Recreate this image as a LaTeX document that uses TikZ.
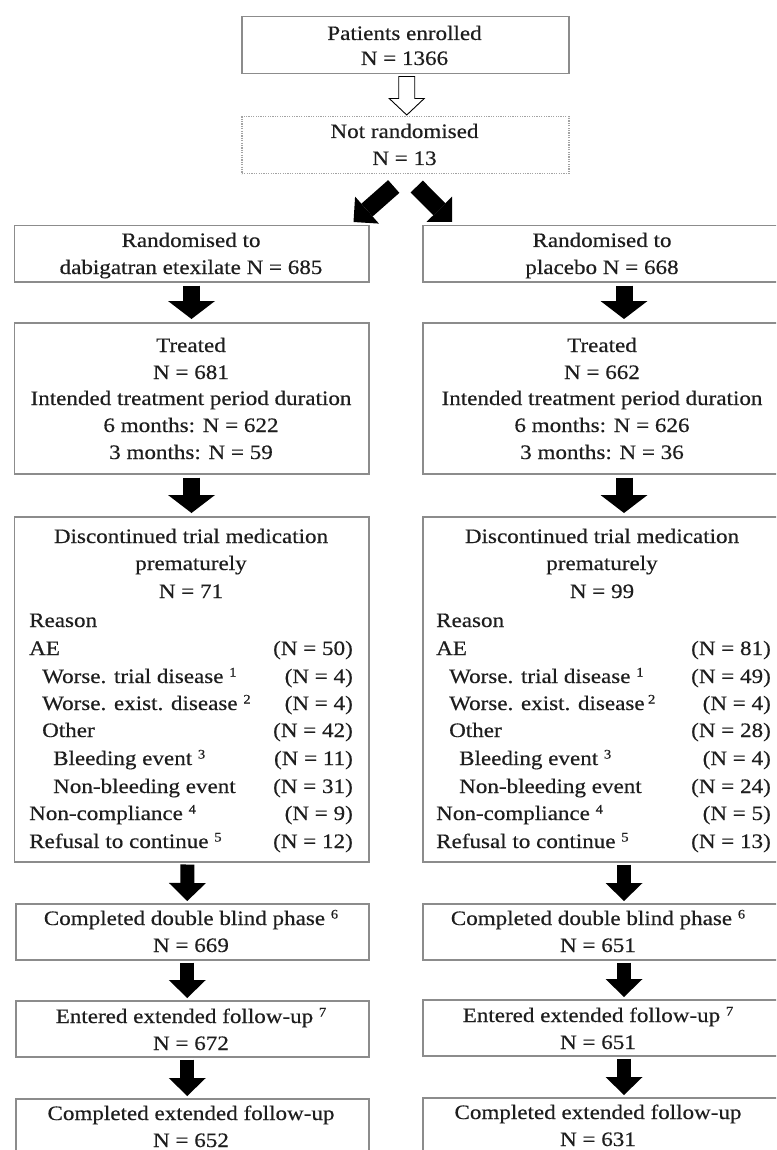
\documentclass[tikz,border=0pt]{standalone}
\usepackage{fontspec}
\setmainfont{Liberation Serif}[FakeStretch=1.125,FakeBold=0.4]
\usetikzlibrary{arrows.meta,calc}
\definecolor{ink}{RGB}{30,30,30}
\definecolor{edge}{RGB}{140,140,140}
\newcommand\F{\fontsize{20.5}{27}\selectfont}
\newcommand\SUP[1]{\raisebox{6.5pt}{\fontsize{13}{13}\selectfont #1}}
\tikzset{
 box/.style={draw=edge, line width=1.5pt, fill=white, anchor=north west, inner sep=0pt},
 dbox/.style={box, draw=edge!80, dash pattern=on 1.2pt off 1.2pt},
 tc/.style={inner sep=0pt, text=ink, font=\F, anchor=base},
 tw/.style={tc, anchor=base west},
 te/.style={tc, anchor=base east},
 blk/.style={draw=black, line width=17pt, -{Triangle[length=18pt,width=47pt,line width=0pt]}, shorten <=3pt, shorten >=3pt},
 blks/.style={draw=black, line width=14pt, -{Triangle[length=18pt,width=37pt,line width=0pt]}, shorten <=2pt, shorten >=2pt},
 diag/.style={draw=black, line width=17pt, -{Triangle[length=18pt,width=36pt,line width=0pt]}},
 hollow/.style={draw=black, line width=0.9pt, fill=white, line join=miter},
}
\begin{document}
\begin{tikzpicture}[x=1pt,y=-1pt]
\useasboundingbox (0,0) rectangle (776,1150);
\clip (0,0) rectangle (776,1150);
\fill[white] (0,0) rectangle (776,1150);
% boxes
\node[box, minimum width=327pt, minimum height=57pt] (enr) at (241,16) {};
\node[dbox, minimum width=327pt, minimum height=57pt] (nrand) at (241,116) {};
\node[box, minimum width=354.5pt, minimum height=56pt] (randL) at (13.5,225) {};
\node[box, minimum width=360pt, minimum height=56pt] (randR) at (422,225) {};
\node[box, minimum width=354.5pt, minimum height=151pt] (treL) at (13.5,322) {};
\node[box, minimum width=360pt, minimum height=151pt] (treR) at (422,322) {};
\node[box, minimum width=354.5pt, minimum height=345pt] (discL) at (13.5,516) {};
\node[box, minimum width=360pt, minimum height=345pt] (discR) at (422,516) {};
\node[box, minimum width=353pt, minimum height=56pt] (cdbL) at (15,903) {};
\node[box, minimum width=360pt, minimum height=56pt] (cdbR) at (422,903) {};
\node[box, minimum width=353pt, minimum height=56pt] (entL) at (15,1000) {};
\node[box, minimum width=360pt, minimum height=56pt] (entR) at (422,999) {};
\node[box, minimum width=353pt, minimum height=80pt] (cexL) at (15,1098) {};
\node[box, minimum width=360pt, minimum height=80pt] (cexR) at (422,1097) {};
% hollow arrow
\draw[hollow] ($(enr.south)+(-6.5,2)$) -- ($(enr.south)+(-6.5,24)$) -- ($(enr.south)+(-16,24)$)
  -- ($(nrand.north)+(1.5,-1)$) -- ($(enr.south)+(19,24)$) -- ($(enr.south)+(9.5,24)$)
  -- ($(enr.south)+(9.5,2)$) -- cycle;
% diagonal arrows
\draw[diag] ($(nrand.south)+(-11.5,12)$) -- ($(randL.north east)+(-16,-3)$);
\draw[diag] ($(nrand.south)+(11.5,12)$) -- ($(randR.north west)+(30,-3)$);
% vertical arrows left
\draw[blk] (randL.south) -- (treL.north);
\draw[blk] (treL.south) -- (discL.north);
\draw[blks] ($(discL.south)+(-4,0)$) -- ($(cdbL.north)+(-5,0)$);
\draw[blks] ($(cdbL.south)+(-5,0)$) -- ($(entL.north)+(-5,0)$);
\draw[blks] ($(entL.south)+(-5,0)$) -- ($(cexL.north)+(-5,0)$);
% vertical arrows right
\draw[blk] ($(randR.south west)+(202,0)$) -- ($(treR.north west)+(202,0)$);
\draw[blk] ($(treR.south west)+(202,0)$) -- ($(discR.north west)+(202,0)$);
\draw[blks] ($(discR.south west)+(202,0)$) -- ($(cdbR.north west)+(202,0)$);
\draw[blks] ($(cdbR.south west)+(202,0)$) -- ($(entR.north west)+(202,0)$);
\draw[blks] ($(entR.south west)+(202,0)$) -- ($(cexR.north west)+(202,0)$);
% texts top
\node[tc] (e1) at (404.5,40) {Patients enrolled};
\node[tc] (e2) at (404.5,65) {N = 1366};
\node[tc] (n1) at (404.5,138) {Not randomised};
\node[tc] (n2) at (404.5,165) {N = 13};
\node[tc] (rl1) at (191,247) {Randomised to};
\node[tc] (rl2) at (191,274) {dabigatran etexilate N = 685};
\node[tc] (rr1) at (602,247) {Randomised to};
\node[tc] (rr2) at (602,274) {placebo N = 668};
% treated
\node[tc] (tl1) at (191,352) {Treated};
\node[tc] (tl2) at (191,379) {N = 681};
\node[tc] (tl3) at (191,405) {Intended treatment period duration};
\node[tc] (tl4) at (191,432) {6 months: N = 622};
\node[tc] (tl5) at (191,459) {3 months: N = 59};
\node[tc] (tr1) at (602,352) {Treated};
\node[tc] (tr2) at (602,379) {N = 662};
\node[tc] (tr3) at (602,405) {Intended treatment period duration};
\node[tc] (tr4) at (602,432) {6 months: N = 626};
\node[tc] (tr5) at (602,459) {3 months: N = 36};
% discontinued left
\node[tc] (dl1) at (191,543) {Discontinued trial medication};
\node[tc] (dl2) at (191,570) {prematurely};
\node[tc] (dl3) at (191,598) {N = 71};
\node[tw] (dl4) at (29,627) {Reason};
\node[tw] (dl5) at (29,655) {AE};
\node[te] (dl5n) at (353,655) {(N = 50)};
\node[tw] (dl6) at (42,683) {Worse. trial disease \SUP{1}};
\node[te] (dl6n) at (353,683) {(N = 4)};
\node[tw] (dl7) at (42,710) {Worse. exist. disease \SUP{2}};
\node[te] (dl7n) at (353,710) {(N = 4)};
\node[tw] (dl8) at (42,737) {Other};
\node[te] (dl8n) at (353,737) {(N = 42)};
\node[tw] (dl9) at (53,765) {Bleeding event \SUP{3}};
\node[te] (dl9n) at (353,765) {(N = 11)};
\node[tw] (dl10) at (53,793) {Non-bleeding event};
\node[te] (dl10n) at (353,793) {(N = 31)};
\node[tw] (dl11) at (29,820) {Non-compliance \SUP{4}};
\node[te] (dl11n) at (353,820) {(N = 9)};
\node[tw] (dl12) at (29,848) {Refusal to continue \SUP{5}};
\node[te] (dl12n) at (353,848) {(N = 12)};
% discontinued right
\node[tc] (dr1) at (602,543) {Discontinued trial medication};
\node[tc] (dr2) at (602,570) {prematurely};
\node[tc] (dr3) at (602,598) {N = 99};
\node[tw] (dr4) at (436,627) {Reason};
\node[tw] (dr5) at (436,655) {AE};
\node[te] (dr5n) at (771,655) {(N = 81)};
\node[tw] (dr6) at (449,683) {Worse. trial disease \SUP{1}};
\node[te] (dr6n) at (771,683) {(N = 49)};
\node[tw] (dr7) at (449,710) {Worse. exist. disease\,\SUP{2}};
\node[te] (dr7n) at (771,710) {(N = 4)};
\node[tw] (dr8) at (449,737) {Other};
\node[te] (dr8n) at (771,737) {(N = 28)};
\node[tw] (dr9) at (459,765) {Bleeding event \SUP{3}};
\node[te] (dr9n) at (771,765) {(N = 4)};
\node[tw] (dr10) at (459,793) {Non-bleeding event};
\node[te] (dr10n) at (771,793) {(N = 24)};
\node[tw] (dr11) at (436,820) {Non-compliance \SUP{4}};
\node[te] (dr11n) at (771,820) {(N = 5)};
\node[tw] (dr12) at (436,848) {Refusal to continue \SUP{5}};
\node[te] (dr12n) at (771,848) {(N = 13)};
% lower boxes
\node[tc] (cl1) at (191,925) {Completed double blind phase \SUP{6}};
\node[tc] (cl2) at (191,952) {N = 669};
\node[tc] (cr1) at (598,925) {Completed double blind phase \SUP{6}};
\node[tc] (cr2) at (598,952) {N = 651};
\node[tc] (el1) at (191,1023) {Entered extended follow-up \SUP{7}};
\node[tc] (el2) at (191,1050) {N = 672};
\node[tc] (er1) at (598,1022) {Entered extended follow-up \SUP{7}};
\node[tc] (er2) at (598,1049) {N = 651};
\node[tc] (xl1) at (191,1120) {Completed extended follow-up};
\node[tc] (xl2) at (191,1147) {N = 652};
\node[tc] (xr1) at (598,1119) {Completed extended follow-up};
\node[tc] (xr2) at (598,1146) {N = 631};
\end{tikzpicture}
\end{document}
